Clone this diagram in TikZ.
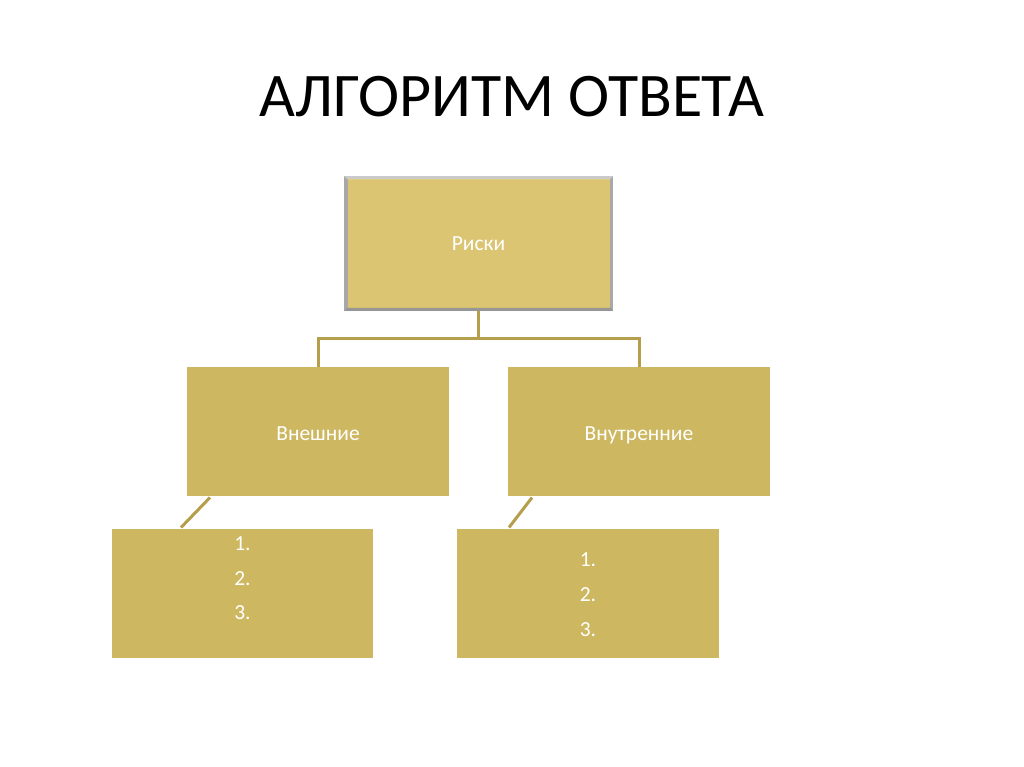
\documentclass[tikz,border=0pt]{standalone}
\usepackage{fontspec}
\setmainfont{Carlito}
\definecolor{topfill}{HTML}{DBC572}
\definecolor{boxfill}{HTML}{CDB761}
\definecolor{linec}{HTML}{B59E4C}
\definecolor{bevel}{HTML}{A8A8A8}
\tikzset{
  lvlbox/.style={fill=boxfill, draw=none, inner sep=0pt},
  conn/.style={draw=linec, line width=3pt},
  lbl/.style={text=white, font=\fontsize{21.5}{25}\selectfont, anchor=base, inner sep=0pt},
}
\begin{document}
\begin{tikzpicture}[x=1pt,y=-1pt]
\useasboundingbox (0,0) rectangle (1024,767);
\fill[white] (0,0) rectangle (1024,767);
% title
\node[font=\fontsize{62}{70}\selectfont, text=black] (title) at (512,97) {АЛГОРИТМ ОТВЕТА};
% top box
\fill[bevel] (344,176) rectangle (613,311);
\fill[topfill] (347.5,179.5) rectangle (609.5,307.5);
\fill[white,opacity=0.4] (344,176) -- (613,176) -- (609.5,179.5) -- (347.5,179.5) -- cycle;
\fill[black,opacity=0.1] (344,311) -- (613,311) -- (609.5,307.5) -- (347.5,307.5) -- cycle;
\node[inner sep=0pt, minimum width=269pt, minimum height=135pt] (top) at (478.5,243.5) {};
\node[lbl] (t0) at (478.5,251) {Риски};
% level 2
\node[lvlbox, minimum width=262pt, minimum height=129pt] (ext) at (318,431.5) {};
\node[lbl] (t1) at (318,440) {Внешние};
\node[lvlbox, minimum width=262pt, minimum height=129pt] (int) at (639,431.5) {};
\node[lbl] (t2) at (639,440) {Внутренние};
% level 3
\node[lvlbox, minimum width=261pt, minimum height=129pt] (extl) at (242.5,593.5) {};
\node[lbl] (n1) at (242.5,550) {1.};
\node[lbl] (n2) at (242.5,585) {2.};
\node[lbl] (n3) at (242.5,619) {3.};
\node[lvlbox, minimum width=262pt, minimum height=129pt] (intl) at (588,593.5) {};
\node[lbl] (m1) at (588,566) {1.};
\node[lbl] (m2) at (588,601) {2.};
\node[lbl] (m3) at (588,636) {3.};
% connectors
\coordinate (j) at (478.5,338);
\draw[conn] (top.south) -- (j);
\draw[conn] (ext.north) -- (ext.north |- j) -- (int.north |- j) -- (int.north);
\coordinate (a1) at (210,497.5);
\coordinate (a2) at (181,527.5);
\draw[conn] (a1) -- (a2);
\coordinate (b1) at (532,497.5);
\coordinate (b2) at (509,527.5);
\draw[conn] (b1) -- (b2);
\end{tikzpicture}
\end{document}
